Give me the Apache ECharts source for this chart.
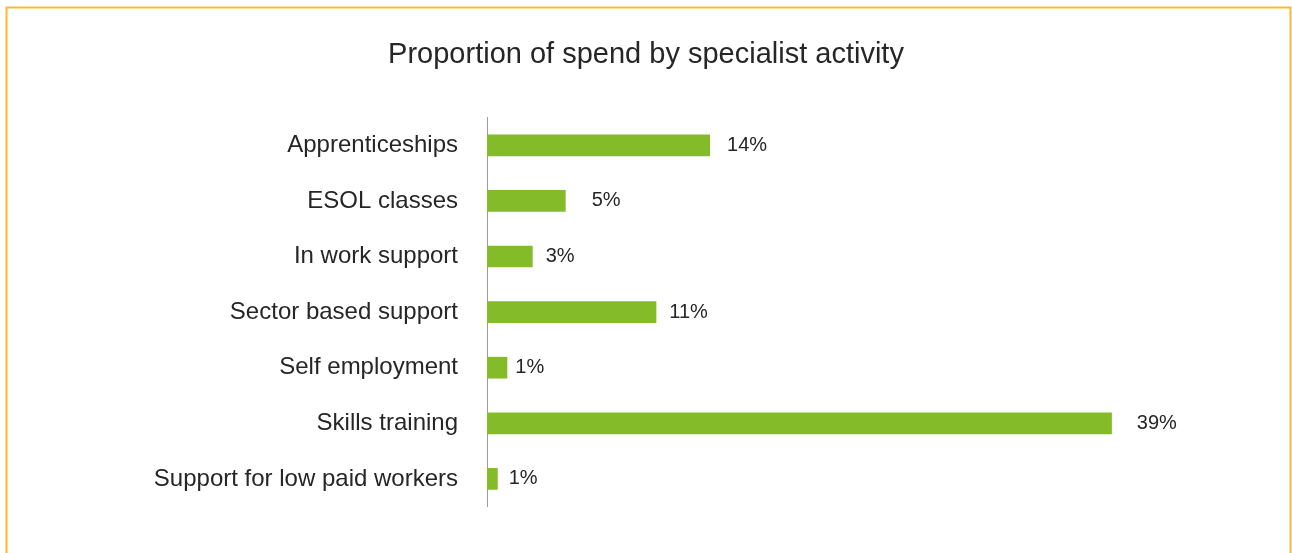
<!DOCTYPE html>
<html>
<head>
<meta charset="utf-8">
<title>Proportion of spend by specialist activity</title>
<script src="https://cdn.jsdelivr.net/npm/echarts@6/dist/echarts.min.js"></script>
<style>
  html, body { margin: 0; padding: 0; background: #ffffff; }
  #chart { width: 1292px; height: 553px; }
</style>
</head>
<body>
<div id="chart"></div>
<script>
// Spend share per specialist activity (percent of total)
const activities = [
  'Apprenticeships',
  'ESOL classes',
  'In work support',
  'Sector based support',
  'Self employment',
  'Skills training',
  'Support for low paid workers'
];
const spendShare = [13.92, 4.91, 2.85, 10.57, 1.27, 39.0, 0.67];

// Gap between each bar end and its value label, in pixels
const labelGaps = [17, 26, 13, 13, 8, 25, 11];

const chart = echarts.init(document.getElementById('chart'), null, { renderer: 'canvas' });

const FONT = 'Liberation Sans, Arial, sans-serif';

chart.setOption({
  animation: false,
  backgroundColor: '#ffffff',
  title: {
    text: 'Proportion of spend by specialist activity',
    left: 'center',
    top: 40,
    padding: 0,
    textStyle: {
      fontFamily: FONT,
      fontSize: 29,
      fontWeight: 'normal',
      color: '#262626'
    }
  },
  graphic: [{
    type: 'rect',
    silent: true,
    shape: { x: 6.5, y: 7.5, width: 1284, height: 600 },
    style: { fill: 'none', stroke: '#FDB92E', lineWidth: 2 }
  }],
  grid: {
    left: 487,
    top: 117.5,
    right: 84,
    bottom: 46.3,
    containLabel: false
  },
  xAxis: {
    type: 'value',
    min: 0,
    max: 45,
    show: false
  },
  yAxis: {
    type: 'category',
    data: activities,
    inverse: true,
    axisLine: { show: true, lineStyle: { color: '#9a9a9a', width: 1 } },
    axisTick: { show: false },
    splitLine: { show: false },
    axisLabel: {
      margin: 29,
      fontFamily: FONT,
      fontSize: 24,
      color: '#262626'
    }
  },
  series: [{
    type: 'bar',
    barCategoryGap: '61%',
    data: spendShare.map((v, i) => ({
      value: v,
      label: { distance: labelGaps[i] }
    })),
    itemStyle: { color: '#84BB29' },
    label: {
      show: true,
      position: 'right',
      fontFamily: FONT,
      fontSize: 20,
      color: '#262626',
      formatter: p => Math.round(p.value) + '%'
    }
  }]
});
</script>
</body>
</html>
